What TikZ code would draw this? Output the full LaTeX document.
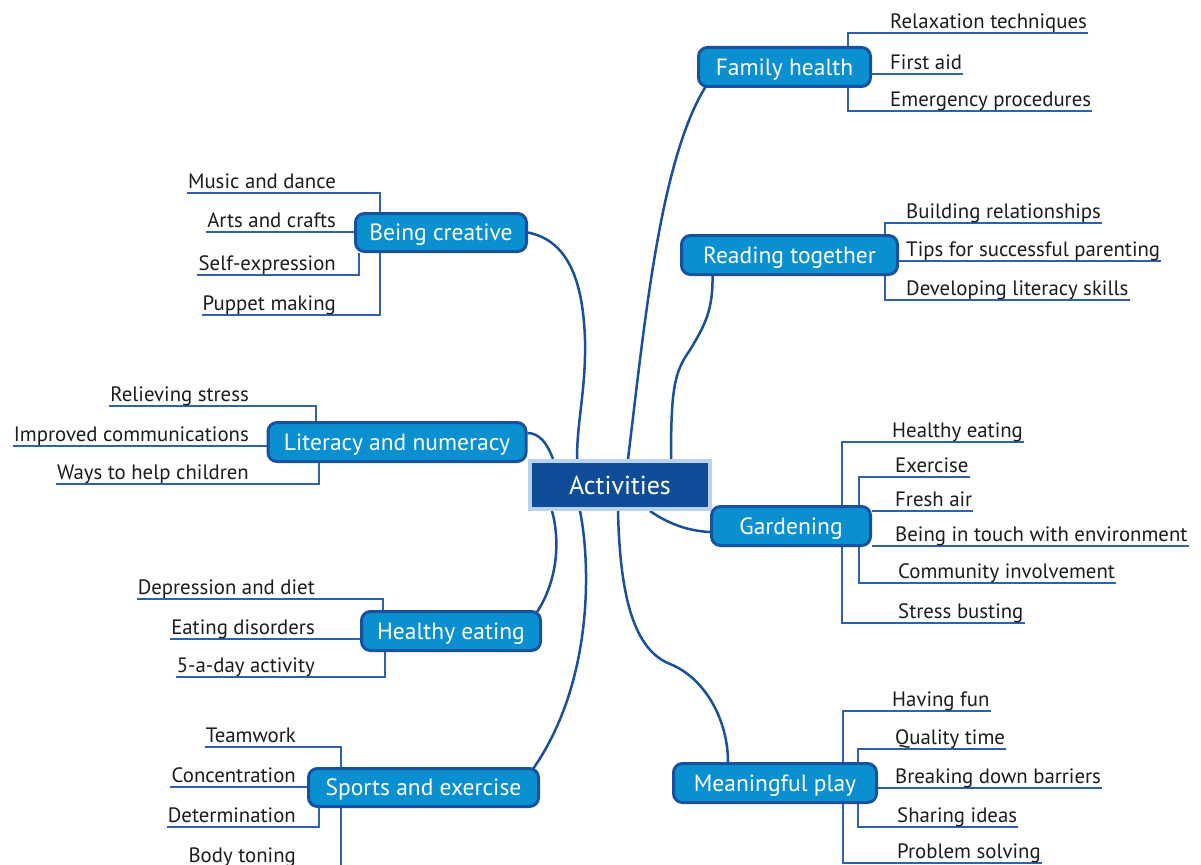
\documentclass[tikz,border=0pt]{standalone}
\usepackage{fontspec}
\setmainfont{PT Sans}
\usetikzlibrary{calc}
\definecolor{nodefill}{HTML}{0A8FD1}
\definecolor{nodeborder}{HTML}{1752A0}
\definecolor{actfill}{HTML}{0F4C9A}
\definecolor{actborder}{HTML}{B9D3EE}
\definecolor{branchc}{HTML}{1A4F9C}
\definecolor{leafc}{HTML}{2F62AC}
\definecolor{textc}{HTML}{1E1B1C}
\pgfdeclarelayer{bg}
\pgfsetlayers{bg,main}
\tikzset{
  topic/.style={draw=nodeborder, fill=nodefill, line width=3pt, rounded corners=9pt,
    text=white, font=\fontsize{23.5}{27}\selectfont, inner sep=0pt, minimum height=39pt,
    text height=16.5pt, text depth=0pt},
  central/.style={draw=actborder, fill=actfill, line width=4pt, text=white,
    font=\fontsize{26}{30}\selectfont, minimum width=180pt, minimum height=48pt, inner sep=0pt,
    text height=18pt, text depth=0pt},
  leaf/.style={text=textc, font=\fontsize{20.8}{24}\selectfont, inner xsep=1pt, inner ysep=4pt, text depth=0pt},
  leafr/.style={leaf, anchor=south west},
  leafl/.style={leaf, anchor=south east},
  branch/.style={draw=branchc, line width=2.5pt},
  leafline/.style={draw=leafc, line width=1.4pt}
}
\begin{document}
\begin{tikzpicture}[x=1pt,y=-1pt]
\useasboundingbox (0,0) rectangle (1201,864);
% central
\node[central] (act) at (620,485) {Activities};
% topics
\node[topic, minimum width=172pt] (fh) at (784.5,67) {Family health};
\node[topic, minimum width=171pt, minimum height=38pt] (bc) at (441,232.5) {Being creative};
\node[topic, minimum width=216pt] (rt) at (789.5,255) {Reading together};
\node[topic, minimum width=258pt] (ln) at (397,442) {Literacy and numeracy};
\node[topic, minimum width=159pt] (gd) at (791,526) {Gardening};
\node[topic, minimum width=179pt] (he) at (451,631) {Healthy eating};
\node[topic, minimum width=230pt, minimum height=38pt] (se) at (423.5,787.5) {Sports and exercise};
\node[topic, minimum width=203pt] (mp) at (775,783) {Meaningful play};
% branch coordinates
\coordinate (fhv) at (848,0);
\coordinate (bcv) at (380,0);
\coordinate (bcw) at (359,0);
\coordinate (rtv) at (885,0);
\coordinate (lnv) at (316,0);
\coordinate (lnw) at (319,0);
\coordinate (hev) at (383,0);
\coordinate (hew) at (385,0);
\coordinate (sev) at (341,0);
\coordinate (sew) at (319,0);
\coordinate (gdv) at (842,0);
\coordinate (gdw) at (859,0);
\coordinate (mpv) at (843,0);
\coordinate (mpw) at (858,0);
% leaves: Family health
\node[leafr] (fh1) at (889,33) {Relaxation techniques};
\node[leafr] (fh2) at (889,74) {First aid};
\node[leafr] (fh3) at (889,111) {Emergency procedures};
% Being creative
\node[leafl] (bc1) at (337,193) {Music and dance};
\node[leafl] (bc2) at (337,232) {Arts and crafts};
\node[leafl] (bc3) at (337,275) {Self-expression};
\node[leafl] (bc4) at (337,315) {Puppet making};
% Reading together
\node[leafr] (rt1) at (905,223) {Building relationships};
\node[leafr] (rt2) at (905,261) {Tips for successful parenting};
\node[leafr] (rt3) at (905,300) {Developing literacy skills};
% Literacy and numeracy
\node[leafl] (ln1) at (250,406) {Relieving stress};
\node[leafl] (ln2) at (250,446) {Improved communications};
\node[leafl] (ln3) at (250,484) {Ways to help children};
% Healthy eating
\node[leafl] (he1) at (316,599) {Depression and diet};
\node[leafl] (he2) at (316,639) {Eating disorders};
\node[leafl] (he3) at (316,677) {5-a-day activity};
% Sports and exercise
\node[leafl] (se1) at (297,747) {Teamwork};
\node[leafl] (se2) at (297,787) {Concentration};
\node[leafl] (se3) at (297,827) {Determination};
\node[leafl] (se4) at (297,867) {Body toning};
% Gardening
\node[leafr] (gd1) at (891,442) {Healthy eating};
\node[leafr] (gd2) at (894,477) {Exercise};
\node[leafr] (gd3) at (894,511) {Fresh air};
\node[leafr] (gd4) at (894,546) {Being in touch with environment};
\node[leafr] (gd5) at (897,583) {Community involvement};
\node[leafr] (gd6) at (897,623) {Stress busting};
% Meaningful play
\node[leafr] (mp1) at (891,711) {Having fun};
\node[leafr] (mp2) at (894,749) {Quality time};
\node[leafr] (mp3) at (894,788) {Breaking down barriers};
\node[leafr] (mp4) at (896,827) {Sharing ideas};
\node[leafr] (mp5) at (896,863) {Problem solving};
\begin{pgfonlayer}{bg}
\fill[white] (0,0) rectangle (1201,864);
% main branches
\draw[branch] ([xshift=-43pt]act.north) .. controls (577,420) and (586,390) .. (585,340)
  .. controls (583,275) and (565,240) .. (bc.east);
\draw[branch] ([xshift=8pt]act.north) .. controls (645,320) and (660,160) .. ([xshift=9pt,yshift=2pt]fh.south west);
\draw[branch] ([xshift=51pt]act.north) .. controls (671,390) and (674,372) .. (690,350)
  .. controls (705,325) and (713,310) .. ([xshift=-77pt]rt.south);
\draw[branch] ([yshift=9pt]ln.east) .. controls (540,433) and (548,445) .. ([xshift=-67pt]act.north);
\draw[branch] ([xshift=30pt]act.south) .. controls (670,525) and (690,531) .. ([yshift=-6pt]gd.west);
\draw[branch] ([xshift=-68pt]act.south) .. controls (560,540) and (558,580) .. ([xshift=-5pt,yshift=-2pt]he.north east);
\draw[branch] ([xshift=-40pt]act.south) .. controls (590,560) and (595,680) .. ([xshift=-7pt,yshift=-2pt]se.north east);
\draw[branch] ([xshift=-2pt]act.south) .. controls (620,600) and (635,650) .. (670,664)
  .. controls (705,678) and (728,720) .. ([xshift=-47pt]mp.north);
% leaf lines: Family health
\draw[leafline] (fh1.south east) -| (fhv |- fh.north);
\draw[leafline] (fh.east |- fh2.south) -- (fh2.south east);
\draw[leafline] (fh3.south east) -| (fhv |- fh.south);
% Being creative
\draw[leafline] (bc1.south west) -| (bcv |- bc.north);
\draw[leafline] (bc2.south west) -- (bc.west |- bc2.south);
\draw[leafline] (bc3.south west) -| (bcw |- bc.south);
\draw[leafline] (bc4.south west) -| (bcv |- bc.south);
% Reading together
\draw[leafline] (rt1.south east) -| (rtv |- rt.north);
\draw[leafline] (rt.east |- rt2.south) -- (rt2.south east);
\draw[leafline] (rt3.south east) -| (rtv |- rt.south);
% Literacy
\draw[leafline] (ln1.south west) -| (lnv |- ln.north);
\draw[leafline] (ln2.south west) -- (ln.west |- ln2.south);
\draw[leafline] (ln3.south west) -| (lnw |- ln.south);
% Healthy eating
\draw[leafline] (he1.south west) -| (hev |- he.north);
\draw[leafline] (he2.south west) -- (he.west |- he2.south);
\draw[leafline] (he3.south west) -| (hew |- he.south);
% Sports
\draw[leafline] (se1.south west) -| (sev |- se.north);
\draw[leafline] (se2.south west) -- (se.west |- se2.south);
\draw[leafline] (se3.south west) -| (sew |- se.south);
\draw[leafline] (se4.south west) -| (sev |- se.south);
% Gardening
\draw[leafline] (gd1.south east) -| (gdv |- gd.north);
\draw[leafline] (gd2.south east) -| (gdw |- gd.north);
\draw[leafline] (gd.east |- gd3.south) -- (gd3.south east);
\draw[leafline] (gd.east |- gd4.south) -- (gd4.south east);
\draw[leafline] (gd5.south east) -| (gdw |- gd.south);
\draw[leafline] (gd6.south east) -| (gdv |- gd.south);
% Meaningful play
\draw[leafline] (mp1.south east) -| (mpv |- mp.north);
\draw[leafline] (mp2.south east) -| (mpw |- mp.north);
\draw[leafline] (mp.east |- mp3.south) -- (mp3.south east);
\draw[leafline] (mp4.south east) -| (mpw |- mp.south);
\draw[leafline] (mp5.south east) -| (mpv |- mp.south);
\end{pgfonlayer}
\end{tikzpicture}
\end{document}
